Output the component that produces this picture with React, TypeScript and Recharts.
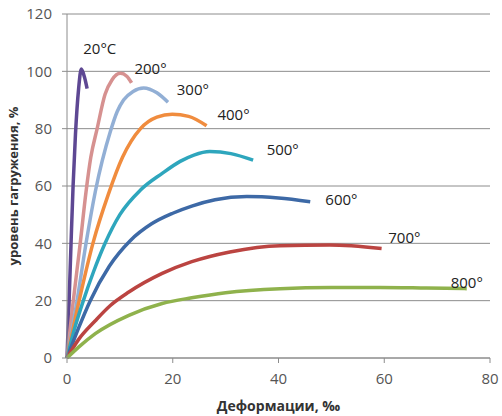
import {
  LineChart,
  Line,
  XAxis,
  YAxis,
  CartesianGrid,
  ReferenceDot,
} from "recharts";

// deformation (‰) / load level (%) pairs
const curve20: [number, number][] = [
  [0, 0], [0.4, 20], [0.8, 42], [1.15, 60], [1.6, 78], [2.2, 94], [2.7, 100.8], [3.3, 98], [3.8, 94],
];
const curve200: [number, number][] = [
  [0, 0], [1, 17], [2.5, 40], [3.6, 58], [4.5, 70], [5.7, 80], [7.2, 92], [8.5, 97], [10.1, 99.3], [11.3, 98.3], [12.2, 96],
];
const curve300: [number, number][] = [
  [0, 0], [1.9, 20], [3.6, 40], [5.35, 58], [8.2, 79], [9.5, 86], [10.7, 90], [12.5, 93], [14.5, 94.2], [17, 92.5], [19.1, 89.2],
];
const curve400: [number, number][] = [
  [0, 0], [2.3, 20], [4.9, 40], [7.8, 57], [10.5, 70], [13.9, 80], [17, 84], [19.9, 85], [23, 84.3], [26.4, 81],
];
const curve500: [number, number][] = [
  [0, 0], [1.4, 10], [3, 19.5], [5, 30], [7.2, 40], [10, 50], [13.9, 58.6], [18, 64.4], [21.4, 68.6], [24, 70.8], [27, 72], [31, 71.3], [35.2, 69],
];
const curve600: [number, number][] = [
  [0, 0], [2.2, 10.5], [4.4, 20], [8, 32], [12, 41], [16, 46.8], [20, 50.5], [23.6, 53], [28, 55.2], [34, 56.3], [40, 55.8], [46, 54.5],
];
const curve700: [number, number][] = [
  [0, 0], [2.2, 6.5], [5.35, 13], [8.2, 18.3], [11.7, 23], [18, 29.5], [23.6, 33.6], [30.8, 37], [40.3, 39.2], [49.7, 39.4], [59.5, 38.2],
];
const curve800: [number, number][] = [
  [0, 0], [2.2, 3.8], [5.35, 8.5], [11.7, 14.9], [18, 19], [23.6, 21], [30, 22.8], [40.3, 24.2], [50, 24.6], [59.2, 24.6], [68, 24.4], [75.6, 24.2],
];

const names = ["20°C", "200°", "300°", "400°", "500°", "600°", "700°", "800°"];
const curves = [curve20, curve200, curve300, curve400, curve500, curve600, curve700, curve800];
const colors = ["#5e4893", "#d69190", "#92afd5", "#f08c3e", "#2ea6bd", "#3d69a6", "#bb4441", "#8fb24c"];
// where each temperature label sits, in data units
const labelAt: [number, number][] = [
  [6.2, 108], [15.8, 101], [23.8, 93.6], [31.5, 84.8], [40.8, 72.6], [51.9, 55.1], [63.8, 41.8], [75.6, 26.4],
];

const xTicks = [0, 20, 40, 60, 80];
const yTicks = [0, 20, 40, 60, 80, 100, 120];

const font = "'Open Sans', sans-serif";

export default function App() {
  return (
    <div style={{ position: "absolute", left: 0, top: 0, background: "#fff" }}>
      <LineChart
        width={502}
        height={416}
        margin={{ top: 14, right: 12, bottom: 0, left: 0 }}
        style={{ fontFamily: font }}
      >
        <CartesianGrid vertical={false} stroke="#8c8c8c" />
        <XAxis
          type="number"
          dataKey="x"
          domain={[0, 80]}
          ticks={xTicks}
          height={58}
          stroke="#8c8c8c"
          tickSize={5}
          tickMargin={10}
          tick={{ fill: "#555", fontSize: 15 }}
          label={{
            value: "Деформации, ‰",
            position: "insideBottom",
            offset: 5,
            fill: "#333",
            fontSize: 14,
            fontWeight: "bold",
          }}
        />
        <YAxis
          type="number"
          domain={[0, 120]}
          ticks={yTicks}
          width={67}
          stroke="#8c8c8c"
          tickSize={5}
          tickMargin={10}
          tick={{ fill: "#555", fontSize: 15 }}
          label={{
            value: "уровень гагружения, %",
            angle: -90,
            position: "insideLeft",
            offset: 13,
            fill: "#333",
            fontSize: 13,
            fontWeight: "bold",
            style: { textAnchor: "middle" },
          }}
        />
        {curves.map((c, i) => (
          <Line
            key={names[i]}
            data={c.map(([x, y]) => ({ x, y }))}
            dataKey="y"
            type="monotone"
            stroke={colors[i]}
            strokeWidth={3.5}
            dot={false}
            isAnimationActive={false}
          />
        ))}
        {labelAt.map(([x, y], i) => (
          <ReferenceDot
            key={"l" + i}
            x={x}
            y={y}
            r={0}
            stroke="none"
            fill="none"
            label={{ value: names[i], position: "center", fill: "#222", fontSize: 15 }}
          />
        ))}
      </LineChart>
    </div>
  );
}
